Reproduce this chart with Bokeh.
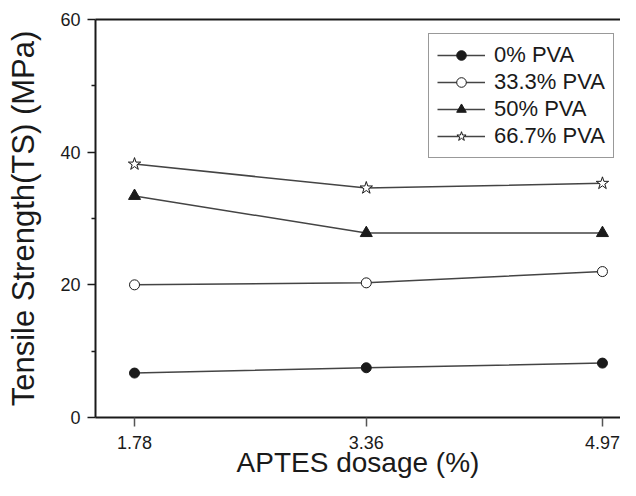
from bokeh.plotting import figure
from bokeh.models import (FixedTicker, LinearAxis, Legend, LegendItem,
                          PrintfTickFormatter)
from bokeh.embed import file_html
from bokeh.resources import INLINE

# ---- data ----
dosage = [1.78, 3.36, 4.97]
pva_0 = [6.7, 7.5, 8.2]
pva_33 = [20.0, 20.3, 22.0]
pva_50 = [33.4, 27.8, 27.8]
pva_67 = [38.2, 34.6, 35.3]
series_names = ["0% PVA", "33.3% PVA", "50% PVA", "66.7% PVA"]
y_ticks = [0, 20, 40, 60]
y_minor = [10, 30, 50]
x_title = "APTES dosage (%)"
y_title = "Tensile Strength(TS) (MPa)"

FONT = "Liberation Sans"
INK = "#1a1a1a"

p = figure(width=620, height=480, x_range=(1.514, 5.093), y_range=(0, 60),
           output_backend="svg", toolbar_location=None,
           min_border_left=95, min_border_right=0, min_border_top=19,
           min_border_bottom=63)
p.outline_line_color = None
p.xgrid.visible = False
p.ygrid.visible = False
p.background_fill_color = "white"
p.border_fill_color = "white"

# x axis
xa = p.xaxis[0]
xa.ticker = FixedTicker(ticks=dosage)
xa.formatter = PrintfTickFormatter(format="%.2f")
xa.axis_line_width = 2
xa.axis_line_color = INK
xa.major_tick_in = 0
xa.major_tick_out = 9
xa.major_tick_line_color = "#555"
xa.major_tick_line_width = 1.5
xa.minor_tick_line_color = None
xa.major_label_standoff = 9
xa.major_label_text_font = FONT
xa.major_label_text_font_size = "18px"
xa.major_label_text_color = INK
xa.axis_label = x_title
xa.axis_label_text_font = FONT
xa.axis_label_text_font_size = "28px"
xa.axis_label_text_font_style = "normal"
xa.axis_label_text_color = INK
xa.axis_label_standoff = -5

# y axis
ya = p.yaxis[0]
ya.ticker = FixedTicker(ticks=y_ticks, minor_ticks=y_minor)
ya.axis_line_width = 2
ya.axis_line_color = INK
ya.major_tick_in = 0
ya.major_tick_out = 8
ya.minor_tick_in = 0
ya.minor_tick_out = 4
ya.major_tick_line_color = INK
ya.minor_tick_line_color = INK
ya.major_tick_line_width = 1.5
ya.minor_tick_line_width = 1.5
ya.major_label_standoff = 7
ya.major_label_text_font = FONT
ya.major_label_text_font_size = "18px"
ya.major_label_text_color = INK
ya.axis_label = y_title
ya.axis_label_text_font = FONT
ya.axis_label_text_font_size = "31px"
ya.axis_label_text_font_style = "normal"
ya.axis_label_text_color = INK
ya.axis_label_standoff = 16

# top border line
top = LinearAxis(ticker=FixedTicker(ticks=[]), major_tick_out=0, major_tick_in=0,
                 minor_tick_out=0, minor_tick_in=0,
                 major_label_text_font_size="0px",
                 axis_line_width=2, axis_line_color=INK)
p.add_layout(top, "above")

LINE = "#444"
styles = [
    (pva_0, "circle", INK, 10),
    (pva_33, "circle", "white", 10),
    (pva_50, "triangle", INK, 12),
    (pva_67, "star", "white", 13),
]
items = []
for name, (vals, marker, fill, size) in zip(series_names, styles):
    ln = p.line(dosage, vals, line_color=LINE, line_width=1.5)
    sc = p.scatter(dosage, vals, marker=marker, size=size, fill_color=fill,
                   line_color=INK, line_width=1)
    items.append(LegendItem(label=name, renderers=[ln, sc]))

legend = Legend(items=items, location=(333, 259),
                label_text_font=FONT, label_text_font_size="22px",
                label_text_color=INK, glyph_width=48, glyph_height=24,
                label_height=24, spacing=1, padding=8, label_standoff=9,
                border_line_color="#333", border_line_width=1.5,
                background_fill_color="white", background_fill_alpha=1)
p.add_layout(legend)

open("out.html", "w").write(file_html(p, INLINE))
